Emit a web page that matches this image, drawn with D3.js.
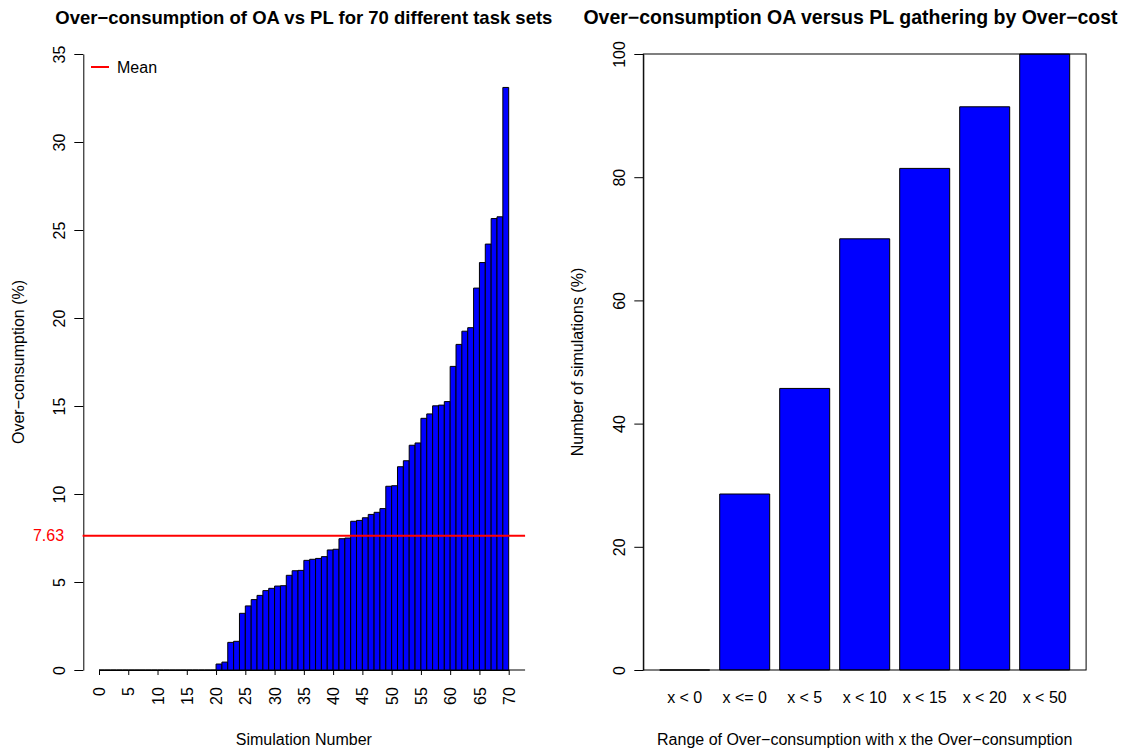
<!DOCTYPE html>
<html>
<head>
<meta charset="utf-8">
<script src="https://cdn.jsdelivr.net/npm/d3@7"></script>
<style>
  html, body { margin: 0; padding: 0; background: #ffffff; }
  svg { display: block; }
  text { font-family: "Liberation Sans", Arial, Helvetica, sans-serif; }
</style>
</head>
<body>
<svg id="chart" width="1123" height="749"></svg>
<script>
// ---------------- DATA ----------------
// Left panel: over-consumption (%) of each of the 70 simulations (sorted)
const overConsumption = [
  0, 0, 0, 0, 0, 0, 0, 0, 0, 0,
  0, 0, 0, 0, 0, 0, 0, 0, 0, 0,
  0.34, 0.45, 1.57, 1.63, 3.22, 3.64, 4.00, 4.24, 4.51, 4.64,
  4.77, 4.79, 5.38, 5.64, 5.66, 6.23, 6.29, 6.34, 6.44, 6.82,
  6.86, 7.46, 7.50, 8.45, 8.50, 8.65, 8.84, 8.96, 9.17, 10.44,
  10.47, 11.55, 11.89, 12.77, 12.90, 14.30, 14.55, 15.01, 15.05, 15.25,
  17.25, 18.50, 19.25, 19.45, 21.70, 23.15, 24.20, 25.65, 25.75, 33.10
];
const meanValue = 7.63;
const meanLabel = "7.63";
const leftXTicks = [0, 5, 10, 15, 20, 25, 30, 35, 40, 45, 50, 55, 60, 65, 70];
const leftYTicks = [0, 5, 10, 15, 20, 25, 30, 35];

// Right panel: percentage of simulations in each over-consumption range
const rangeCategories = ["x < 0", "x <= 0", "x < 5", "x < 10", "x < 15", "x < 20", "x < 50"];
const simulationsPct = [0, 28.57, 45.71, 70.00, 81.43, 91.43, 100];
const rightYTicks = [0, 20, 40, 60, 80, 100];

// Texts
const leftTitle = "Over\u2212consumption of OA vs PL for 70 different task sets";
const leftXLabel = "Simulation Number";
const leftYLabel = "Over\u2212consumption (%)";
const legendLabel = "Mean";
const rightTitle = "Over\u2212consumption OA versus PL gathering by Over\u2212cost";
const rightXLabel = "Range of Over\u2212consumption with x the Over\u2212consumption";
const rightYLabel = "Number of simulations (%)";

// ---------------- DRAWING ----------------
const svg = d3.select("#chart");
const FS = 16;          // base font size
const LINE = 19.2;      // margin line height
const BLUE = "#0000ff";
const RED = "#ff0000";

// ===== Left panel =====
const xL = d3.scaleLinear().domain([0, 70]).range([99, 508.7]);
const yL = d3.scaleLinear().domain([0, 35]).range([670, 54]);
const lPlotL = xL(-2.8), lPlotR = xL(72.8);
const lCenter = (lPlotL + lPlotR) / 2;
const left = svg.append("g");

// bars
left.append("g").selectAll("path")
  .data(overConsumption)
  .join("path")
  .attr("d", (v, i) => `M${xL(i)},${yL(0)}V${yL(v)}H${xL(i + 1)}V${yL(0)}Z`)
  .attr("fill", BLUE)
  .attr("stroke", "#000")
  .attr("stroke-width", 1);

// x axis
const gxL = left.append("g")
  .attr("transform", `translate(0,${yL(0)})`)
  .call(d3.axisBottom(xL).tickValues(leftXTicks).tickSize(5).tickSizeOuter(0));
gxL.selectAll("text")
  .attr("y", null).attr("dy", "0.35em")
  .attr("transform", `translate(0,${LINE - 2}) rotate(-90)`)
  .attr("text-anchor", "end")
  .attr("font-size", FS).attr("font-family", null).attr("fill", "#000");
gxL.selectAll("line, path").attr("stroke", "#000");
left.append("line")
  .attr("x1", xL(70)).attr("x2", lPlotR)
  .attr("y1", yL(0)).attr("y2", yL(0))
  .attr("stroke", "#000");

// y axis
const gyL = left.append("g")
  .attr("transform", `translate(${lPlotL + 0.7},0)`)
  .call(d3.axisLeft(yL).tickValues(leftYTicks).tickSize(9).tickSizeOuter(0));
gyL.selectAll("text")
  .attr("x", null).attr("dy", null)
  .attr("transform", `translate(${-LINE + 1},0) rotate(-90)`)
  .attr("text-anchor", "middle")
  .attr("font-size", FS).attr("font-family", null).attr("fill", "#000");
gyL.selectAll("line, path").attr("stroke", "#000");

// mean line
left.append("line")
  .attr("x1", lPlotL).attr("x2", lPlotR)
  .attr("y1", yL(meanValue)).attr("y2", yL(meanValue))
  .attr("stroke", RED).attr("stroke-width", 2);
left.append("text")
  .attr("x", lPlotL + 0.7 - LINE).attr("y", yL(meanValue)).attr("dy", "0.35em")
  .attr("text-anchor", "end").attr("font-size", FS).attr("fill", RED)
  .text(meanLabel);

// legend
left.append("line")
  .attr("x1", 91).attr("x2", 109).attr("y1", 67).attr("y2", 67)
  .attr("stroke", RED).attr("stroke-width", 2);
left.append("text")
  .attr("x", 117).attr("y", 67).attr("dy", "0.35em")
  .attr("font-size", FS).attr("fill", "#000")
  .text(legendLabel);

// titles
left.append("text")
  .attr("x", lCenter).attr("y", 24)
  .attr("text-anchor", "middle").attr("font-size", 18.5).attr("font-weight", "bold")
  .text(leftTitle);
left.append("text")
  .attr("x", lCenter).attr("y", 745)
  .attr("text-anchor", "middle").attr("font-size", FS)
  .text(leftXLabel);
left.append("text")
  .attr("transform", `translate(${lPlotL + 0.7 - 3 * LINE - 2},${(yL(0) + yL(35)) / 2}) rotate(-90)`)
  .attr("text-anchor", "middle").attr("font-size", FS)
  .text(leftYLabel);

// ===== Right panel =====
const xR = d3.scaleLinear().domain([-0.128, 8.728]).range([643.3, 1086.1]);
const yR = d3.scaleLinear().domain([0, 100]).range([670, 54]);
const rCenter = (xR.range()[0] + xR.range()[1]) / 2;
const right = svg.append("g");
const barLeft = i => 0.2 + i * 1.2;

right.append("g").selectAll("path")
  .data(simulationsPct)
  .join("path")
  .attr("d", (v, i) => `M${xR(barLeft(i))},${yR(0)}V${yR(v)}H${xR(barLeft(i) + 1)}V${yR(0)}Z`)
  .attr("fill", BLUE)
  .attr("stroke", "#000")
  .attr("stroke-width", 1);

// box
right.append("rect")
  .attr("x", xR.range()[0]).attr("y", yR(100))
  .attr("width", xR.range()[1] - xR.range()[0])
  .attr("height", yR(0) - yR(100))
  .attr("fill", "none").attr("stroke", "#000");

// y axis
const gyR = right.append("g")
  .attr("transform", `translate(${xR.range()[0]},0)`)
  .call(d3.axisLeft(yR).tickValues(rightYTicks).tickSize(9).tickSizeOuter(0));
gyR.selectAll("text")
  .attr("x", null).attr("dy", null)
  .attr("transform", `translate(${-LINE + 1},0) rotate(-90)`)
  .attr("text-anchor", "middle")
  .attr("font-size", FS).attr("font-family", null).attr("fill", "#000");
gyR.selectAll("line, path").attr("stroke", "#000");

// category labels
right.append("g").selectAll("text")
  .data(rangeCategories)
  .join("text")
  .attr("x", (d, i) => xR(barLeft(i) + 0.5))
  .attr("y", 703)
  .attr("text-anchor", "middle").attr("font-size", FS)
  .text(d => d);

// titles
right.append("text")
  .attr("x", 850.5).attr("y", 24)
  .attr("text-anchor", "middle").attr("font-size", 19.5).attr("font-weight", "bold")
  .text(rightTitle);
right.append("text")
  .attr("x", rCenter).attr("y", 745)
  .attr("text-anchor", "middle").attr("font-size", FS)
  .text(rightXLabel);
right.append("text")
  .attr("transform", `translate(${xR.range()[0] - 3 * LINE - 3},${(yR(0) + yR(100)) / 2}) rotate(-90)`)
  .attr("text-anchor", "middle").attr("font-size", FS)
  .text(rightYLabel);
</script>
</body>
</html>
